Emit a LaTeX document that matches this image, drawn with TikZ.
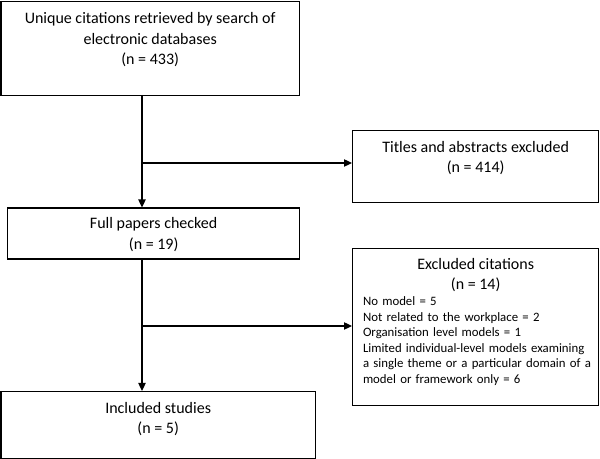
\documentclass[tikz,border=0pt]{standalone}
\usepackage{fontspec}
\setmainfont{Carlito}
\usepackage{tikz}
\usetikzlibrary{positioning,arrows.meta}
\tikzset{stage/.style={draw, line width=1pt, rectangle, inner sep=0pt, anchor=north west},
    stagetext/.style={inner sep=0pt, align=center, font=\fontsize{12}{15.3}\selectfont},
    flow/.style={line width=0.9pt, -{Triangle[length=6pt, width=5.5pt]}}
}
\newcommand{\fullline}[1]{\makebox[169pt][s]{#1}}

\begin{document}
\begin{tikzpicture}[x=0.75pt, y=-0.75pt]
            \useasboundingbox (0,0) rectangle (600,459);
            % boxes
            \node[stage, minimum width=223.5pt, minimum height=70.5pt] (search) at (0.5,1) {};
            \node[stage, minimum width=184.5pt, minimum height=54pt] (titles) at (352,130) {};
            \node[stage, minimum width=219pt, minimum height=38.25pt] (full) at (7,207.5) {};
            \node[stage, minimum width=184.5pt, minimum height=117.75pt] (excl) at (352,248) {};
            \node[stage, minimum width=235.5pt, minimum height=50.25pt] (incl) at (0.5,391) {};
            % texts
            \node[stagetext, below=8.5pt of search.north] (searchtxt) {Unique citations retrieved by search of\\electronic databases\\(n = 433)};
            \node[stagetext, below=8pt of titles.north] (titlestxt) {Titles and abstracts excluded\\(n = 414)};
            \node[stagetext, below=7.5pt of full.north] (fulltxt) {Full papers checked\\(n = 19)};
            \node[stagetext, below=8pt of incl.north] (incltxt) {Included studies\\(n = 5)};
            \node[stagetext, below=7.5pt of excl.north] (excltxt) {Excluded citations\\(n = 14)};
            \node[inner sep=0pt, below=3pt of excltxt, text width=169pt, align=left,
                  font=\fontsize{9.6}{11.7}\selectfont] (reasons)
                  {No model = 5\\Not related to the workplace = 2\\Organisation level models = 1\\
                   \fullline{Limited individual-level models examining}\\
                   \fullline{a single theme or a particular domain of a}\\
                   model or framework only = 6};
            % trunk and branches
            \coordinate (top) at (142,95);
            \coordinate (split1) at (142,163);
            \coordinate (split2) at (142,326);
            \draw[flow] (top) -- (top |- full.north);
            \draw[flow] (split1) -- (split1 -| titles.west);
            \draw[flow] (top |- full.south) -- (top |- incl.north);
            \draw[flow] (split2) -- (split2 -| excl.west);
        \end{tikzpicture}
\end{document}
